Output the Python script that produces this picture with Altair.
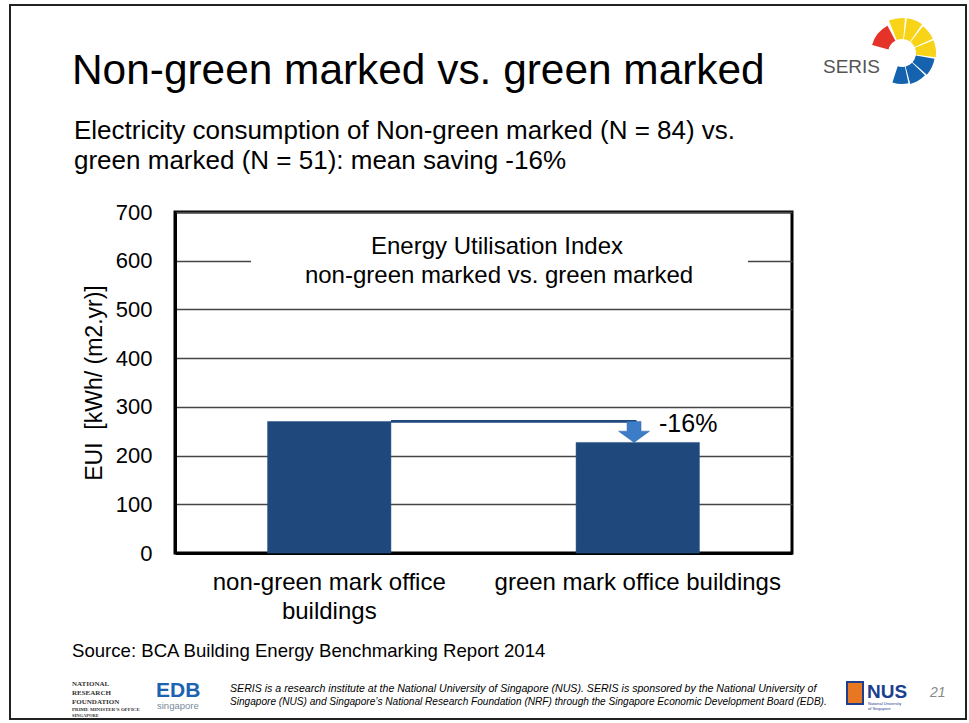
import altair as alt
import pandas as pd

# ---------------- data ----------------
categories = ["non-green mark office buildings", "green mark office buildings"]
eui_values = [270, 227]
change_label = "-16%"
y_ticks = [0, 100, 200, 300, 400, 500, 600, 700]

slide_title = "Non-green marked vs. green marked"
subtitle_lines = ["Electricity consumption of Non-green marked (N = 84) vs.",
                  "green marked (N = 51): mean saving -16%"]
chart_title_lines = ["Energy Utilisation Index", "non-green marked vs. green marked"]
y_title = "EUI\u00a0\u00a0[kWh/ (m2.yr)]"
source_text = "Source: BCA Building Energy Benchmarking Report 2014"
footer_lines = ["SERIS is a research institute at the National University of Singapore (NUS). SERIS is sponsored by the National University of",
                "Singapore (NUS) and Singapore\u2019s National Research Foundation (NRF) through the Singapore Economic Development Board (EDB)."]
nrf_lines = ["NATIONAL", "RESEARCH", "FOUNDATION", "PRIME MINISTER\u2019S OFFICE", "SINGAPORE"]
page_number = "21"

# SERIS logo segments (degrees, clockwise from 12 o'clock) and colours
logo_start = [-75, -22, 8, 38, 68, 100, 134, 168]
logo_end = [-28, 5, 35, 65, 97, 131, 165, 198]
logo_outer = [31, 35, 35, 34, 34, 33, 32, 31]
logo_colors = ["#E63329", "#F7D417", "#F7D417", "#F7D417", "#F7D417", "#1563AE", "#1563AE", "#1563AE"]

FONT = "Liberation Sans"
BAR_COLOR = "#1F497D"

# plot area geometry (pixels)
W, H = 617, 341
PL, PT = 175, 212
PR, PB = 969 - PL - W, 723 - PT - H

bars_df = pd.DataFrame({"category": categories, "eui": eui_values})
conn_df = pd.DataFrame({
    "from": [categories[0]], "to": [categories[1]],
    "level": [eui_values[0]], "mid": [(eui_values[0] + eui_values[1]) / 2],
    "label": [change_label],
})

x_scale = alt.Scale(domain=categories, paddingInner=0.6, paddingOuter=0.3)
y_scale = alt.Scale(domain=[0, 700], nice=False)

label_expr = ("datum.label == '" + categories[0] + "' ? ['non-green mark office', 'buildings'] : datum.label")

bars = alt.Chart(bars_df).mark_bar(color=BAR_COLOR, stroke="#2a5588", strokeWidth=0.5).encode(
    x=alt.X("category:N", sort=categories, scale=x_scale,
            axis=alt.Axis(title=None, labelExpr=label_expr, labelFontSize=24, labelPadding=17,
                          labelLineHeight=29, labelLimit=400, ticks=False, labelAngle=0,
                          labelColor="black", domainColor="black", domainWidth=3, grid=False)),
    y=alt.Y("eui:Q", scale=y_scale,
            axis=alt.Axis(values=y_ticks, title=y_title, titleFontSize=23, titleFontWeight="normal",
                          titleColor="black", titlePadding=9, labelFontSize=22, labelPadding=23,
                          labelColor="black", ticks=False, domainColor="black", domainWidth=3,
                          grid=True, gridColor="#444444", gridWidth=1.6)),
)

# white mask hiding the 600 gridline behind the inner title
mask = alt.Chart(alt.Data(values=[{}])).mark_rect(color="white").encode(
    x=alt.value(76), x2=alt.value(573), y=alt.value(38), y2=alt.value(60))

connector = alt.Chart(conn_df).mark_rule(color=BAR_COLOR, strokeWidth=2.8).encode(
    x=alt.X("from:N", sort=categories, scale=x_scale, bandPosition=1),
    x2=alt.X2("to:N", bandPosition=0.49),
    y=alt.Y("level:Q", scale=y_scale),
)

arrow_path = "M-0.45,-0.68 L0.45,-0.68 L0.45,-0.05 L1,-0.05 L0,0.68 L-1,-0.05 L-0.45,-0.05 Z"
arrow = alt.Chart(conn_df).mark_point(filled=True, opacity=1, fill="#3D7CC6", stroke="#2f67a8",
                                      strokeWidth=0.5).encode(
    x=alt.X("to:N", sort=categories, scale=x_scale, bandPosition=0.47),
    y=alt.Y("mid:Q", scale=y_scale),
    shape=alt.value(arrow_path),
    size=alt.value(961),
)

change_text = alt.Chart(conn_df).mark_text(align="left", baseline="alphabetic", fontSize=25,
                                           dx=25, dy=11, color="black", font=FONT).encode(
    x=alt.X("to:N", sort=categories, scale=x_scale, bandPosition=0.47),
    y=alt.Y("level:Q", scale=y_scale),
    text="label:N",
)


def txt(text, x, y, size, align="left", color="black", style="normal", weight="normal", font=FONT,
        baseline="alphabetic"):
    return alt.Chart(alt.Data(values=[{}])).mark_text(
        text=text, align=align, baseline=baseline, fontSize=size, color=color, fontStyle=style,
        fontWeight=weight, font=font).encode(x=alt.value(x - PL), y=alt.value(y - PT))


inner_title = [txt(chart_title_lines[0], 497, 254, 24, align="center"),
               txt(chart_title_lines[1], 499, 283, 24, align="center")]

# slide frame (outline only)
frame = alt.Chart(alt.Data(values=[{}])).mark_rect(filled=False, stroke="#222222", strokeWidth=2).encode(
    x=alt.value(10 - PL), x2=alt.value(966 - PL), y=alt.value(5 - PT), y2=alt.value(719 - PT))

slide_texts = [
    txt(slide_title, 72, 84, 42.4),
    txt(subtitle_lines[0], 74, 139, 26),
    txt(subtitle_lines[1], 74, 169, 26),
    txt(source_text, 72, 657, 18.6),
    txt(footer_lines[0], 230, 692, 10.6, style="italic"),
    txt(footer_lines[1], 230, 705, 10.1, style="italic"),
    txt(page_number, 930, 697, 14, color="#888888", style="italic"),
    txt("EDB", 156, 697, 21, color="#1B63B0", weight="bold"),
    txt("singapore", 157, 709, 9.5, color="#7a8a9a"),
    txt("NUS", 867, 698, 19, color="#1C3F8F", weight="bold"),
    txt("National University", 868, 705, 4, color="#1C3F8F"),
    txt("of Singapore", 868, 710, 4, color="#1C3F8F"),
    txt("SERIS", 823, 73, 19, color="#555555"),
]
nrf_y = [686, 695, 704, 711, 717]
nrf_sizes = [7, 7, 7, 5, 4.5]
for line, yy, ss in zip(nrf_lines, nrf_y, nrf_sizes):
    slide_texts.append(txt(line, 72, yy, ss, font="Liberation Serif", weight="bold", color="#333333"))

# NUS crest (simple shield)
crest = alt.Chart(alt.Data(values=[{}])).mark_rect(fill="#E87722", stroke="#1C3F8F", strokeWidth=2).encode(
    x=alt.value(847 - PL), x2=alt.value(863 - PL), y=alt.value(682 - PT), y2=alt.value(704 - PT))

logo_df = pd.DataFrame({
    "t0": [a * 3.14159265 / 180 for a in logo_start],
    "t1": [a * 3.14159265 / 180 for a in logo_end],
    "r": logo_outer,
    "c": logo_colors,
})
logo = alt.Chart(logo_df).mark_arc().encode(
    theta=alt.Theta("t0:Q", scale=None),
    theta2="t1:Q",
    radius=alt.Radius("r:Q", scale=None), radius2=alt.value(14),
    color=alt.Color("c:N", scale=None),
    x=alt.value(902 - PL), y=alt.value(53 - PT),
)

chart = alt.layer(
    frame, bars, mask, connector, arrow, change_text, *inner_title, *slide_texts, crest, logo
).resolve_scale(color="independent").properties(
    width=W, height=H,
    autosize=alt.AutoSizeParams(type="none"),
    padding={"left": PL, "top": PT, "right": PR, "bottom": PB},
    background="white",
).configure(font=FONT).configure_view(stroke="black", strokeWidth=3)

chart.save("out.html", embed_options={"renderer": "svg", "actions": False})
